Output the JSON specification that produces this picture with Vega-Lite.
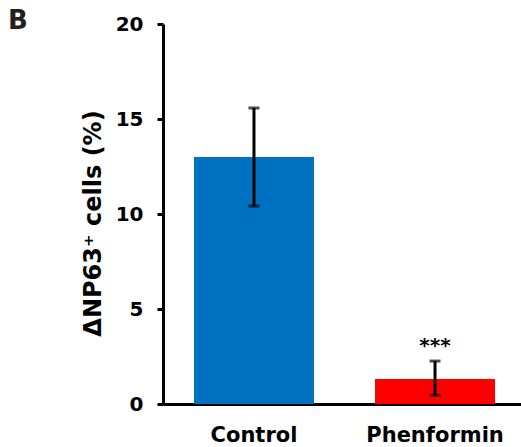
{
  "$schema": "https://vega.github.io/schema/vega-lite/v6.json",
  "width": 363,
  "height": 380,
  "autosize": {"type": "none"},
  "padding": {"left": 163, "top": 24, "right": 0, "bottom": 43},
  "title": {"text": "B", "anchor": "start", "frame": "group", "dx": -155, "dy": 41, "offset": 0, "baseline": "alphabetic", "font": "DejaVu Sans", "fontWeight": "bold", "fontSize": 26, "color": "#231f20"},
  "data": {"values": [
    {"group": "Control", "value": 13.0, "lower": 10.42, "upper": 15.58, "sig": ""},
    {"group": "Phenformin", "value": 1.32, "lower": 0.46, "upper": 2.26, "sig": "***"}
  ]},
  "encoding": {
    "x": {"field": "group", "type": "nominal", "sort": null, "title": null,
      "scale": {"paddingInner": 0.337, "paddingOuter": 0.171},
      "axis": {"labelAngle": 0, "ticks": false, "tickSize": 0, "labelPadding": 20, "labelFont": "DejaVu Sans", "labelFontWeight": "bold", "labelFontSize": 21, "labelColor": "#000000", "domainColor": "#000000", "domainWidth": 3, "grid": false}}
  },
  "layer": [
    {
      "mark": {"type": "bar"},
      "encoding": {
        "y": {"field": "value", "type": "quantitative", "title": "ΔNP63⁺ cells (%)", "scale": {"domain": [0, 20], "nice": false},
          "axis": {"values": [0, 5, 10, 15, 20]}},
        "color": {"field": "group", "type": "nominal", "scale": {"domain": ["Control", "Phenformin"], "range": ["#0070C0", "#FF0000"]}, "legend": null}
      }
    },
    {
      "mark": {"type": "errorbar", "color": "#000000", "thickness": 3, "ticks": {"size": 11, "thickness": 3, "color": "#000000"}},
      "encoding": {
        "y": {"field": "upper", "type": "quantitative", "title": "ΔNP63⁺ cells (%)", "axis": {"values": [0, 5, 10, 15, 20]}},
        "y2": {"field": "lower"}
      }
    },
    {
      "mark": {"type": "text", "baseline": "alphabetic", "dy": -9, "font": "DejaVu Sans", "fontWeight": "bold", "fontSize": 20, "color": "#000000"},
      "encoding": {
        "y": {"field": "upper", "type": "quantitative", "title": "ΔNP63⁺ cells (%)", "axis": {"values": [0, 5, 10, 15, 20]}},
        "text": {"field": "sig"}
      }
    }
  ],
  "config": {
    "view": {"stroke": null},
    "axisY": {
      "grid": false,
      "domainColor": "#000000", "domainWidth": 3,
      "tickColor": "#000000", "tickWidth": 3, "tickSize": 6,
      "labelFont": "DejaVu Sans", "labelFontWeight": "bold", "labelFontSize": 20, "labelColor": "#000000", "labelPadding": 14,
      "titleFont": "DejaVu Sans", "titleFontWeight": "bold", "titleFontSize": 24, "titleColor": "#000000", "titlePadding": 10, "titleY": 199
    }
  }
}
